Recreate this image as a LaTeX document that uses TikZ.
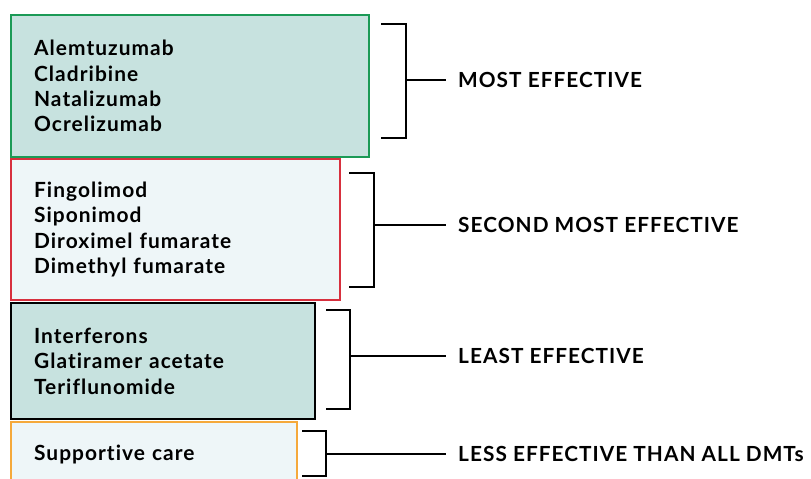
\documentclass[tikz,border=0pt]{standalone}
\usepackage{fontspec}
\setmainfont{Lato}[LetterSpace=5, Ligatures={NoCommon}]
\usepackage{xcolor}
\usetikzlibrary{positioning,calc}
\definecolor{tealbg}{HTML}{C7E2DF}
\definecolor{palebg}{HTML}{EEF6F8}
\definecolor{topgreen}{HTML}{1B9A56}
\definecolor{midred}{HTML}{D7303E}
\definecolor{lowamber}{HTML}{F5A93B}

\begin{document}
\begin{tikzpicture}[
  x=1pt, y=-1pt,
  tier/.style={draw, line width=2.2pt, anchor=north west, align=left, inner xsep=23pt,
    minimum height=#1, font=\fontsize{20.9}{25.3}\selectfont\bfseries},
  brk/.style={draw=black, line width=1.8pt},
  rank/.style={anchor=west, inner xsep=12pt, font=\fontsize{20.8}{22}\selectfont\bfseries}
]
\useasboundingbox (0,0) rectangle (811,479);
\clip (0,0) rectangle (811,479);
% drug groups
\node[tier=142pt, text width=312pt, draw=topgreen, fill=tealbg] (most) at (10,14)
  {Alemtuzumab\\Cladribine\\Natalizumab\\Ocrelizumab};
\node[tier=141pt, text width=283pt, draw=midred, fill=palebg] (second) at (10,158)
  {Fingolimod\\Siponimod\\Diroximel fumarate\\Dimethyl fumarate};
\node[tier=116pt, text width=258pt, draw=black, fill=tealbg] (least) at (10,302)
  {Interferons\\Glatiramer acetate\\Teriflunomide};
\node[tier=64pt, text width=240pt, draw=lowamber, fill=palebg] (care) at (10,421)
  {Supportive care};
% ranking labels
\node[rank] (lmost) at (446,80) {MOST EFFECTIVE};
\node[rank] (lsecond) at (446,225) {SECOND MOST EFFECTIVE};
\node[rank] (lleast) at (446,356) {LEAST EFFECTIVE};
\node[rank] (lcare) at (446,454) {LESS EFFECTIVE THAN ALL DMTs};
% brackets
\coordinate (b1) at (406,80);
\coordinate (b2) at (374,225);
\coordinate (b3) at (350,356);
\coordinate (b4) at (326,454);
\draw[brk] (381,24) -| (406,138) -- (381,138);
\draw[brk] (349,173) -| (374,287) -- (349,287);
\draw[brk] (326,310) -| (350,409) -- (326,409);
\draw[brk] (302,431) -| (326,476) -- (302,476);
\draw[brk] (b1) -- (b1 -| lmost.west);
\draw[brk] (b2) -- (b2 -| lsecond.west);
\draw[brk] (b3) -- (b3 -| lleast.west);
\draw[brk] (b4) -- (b4 -| lcare.west);
\end{tikzpicture}
\end{document}
